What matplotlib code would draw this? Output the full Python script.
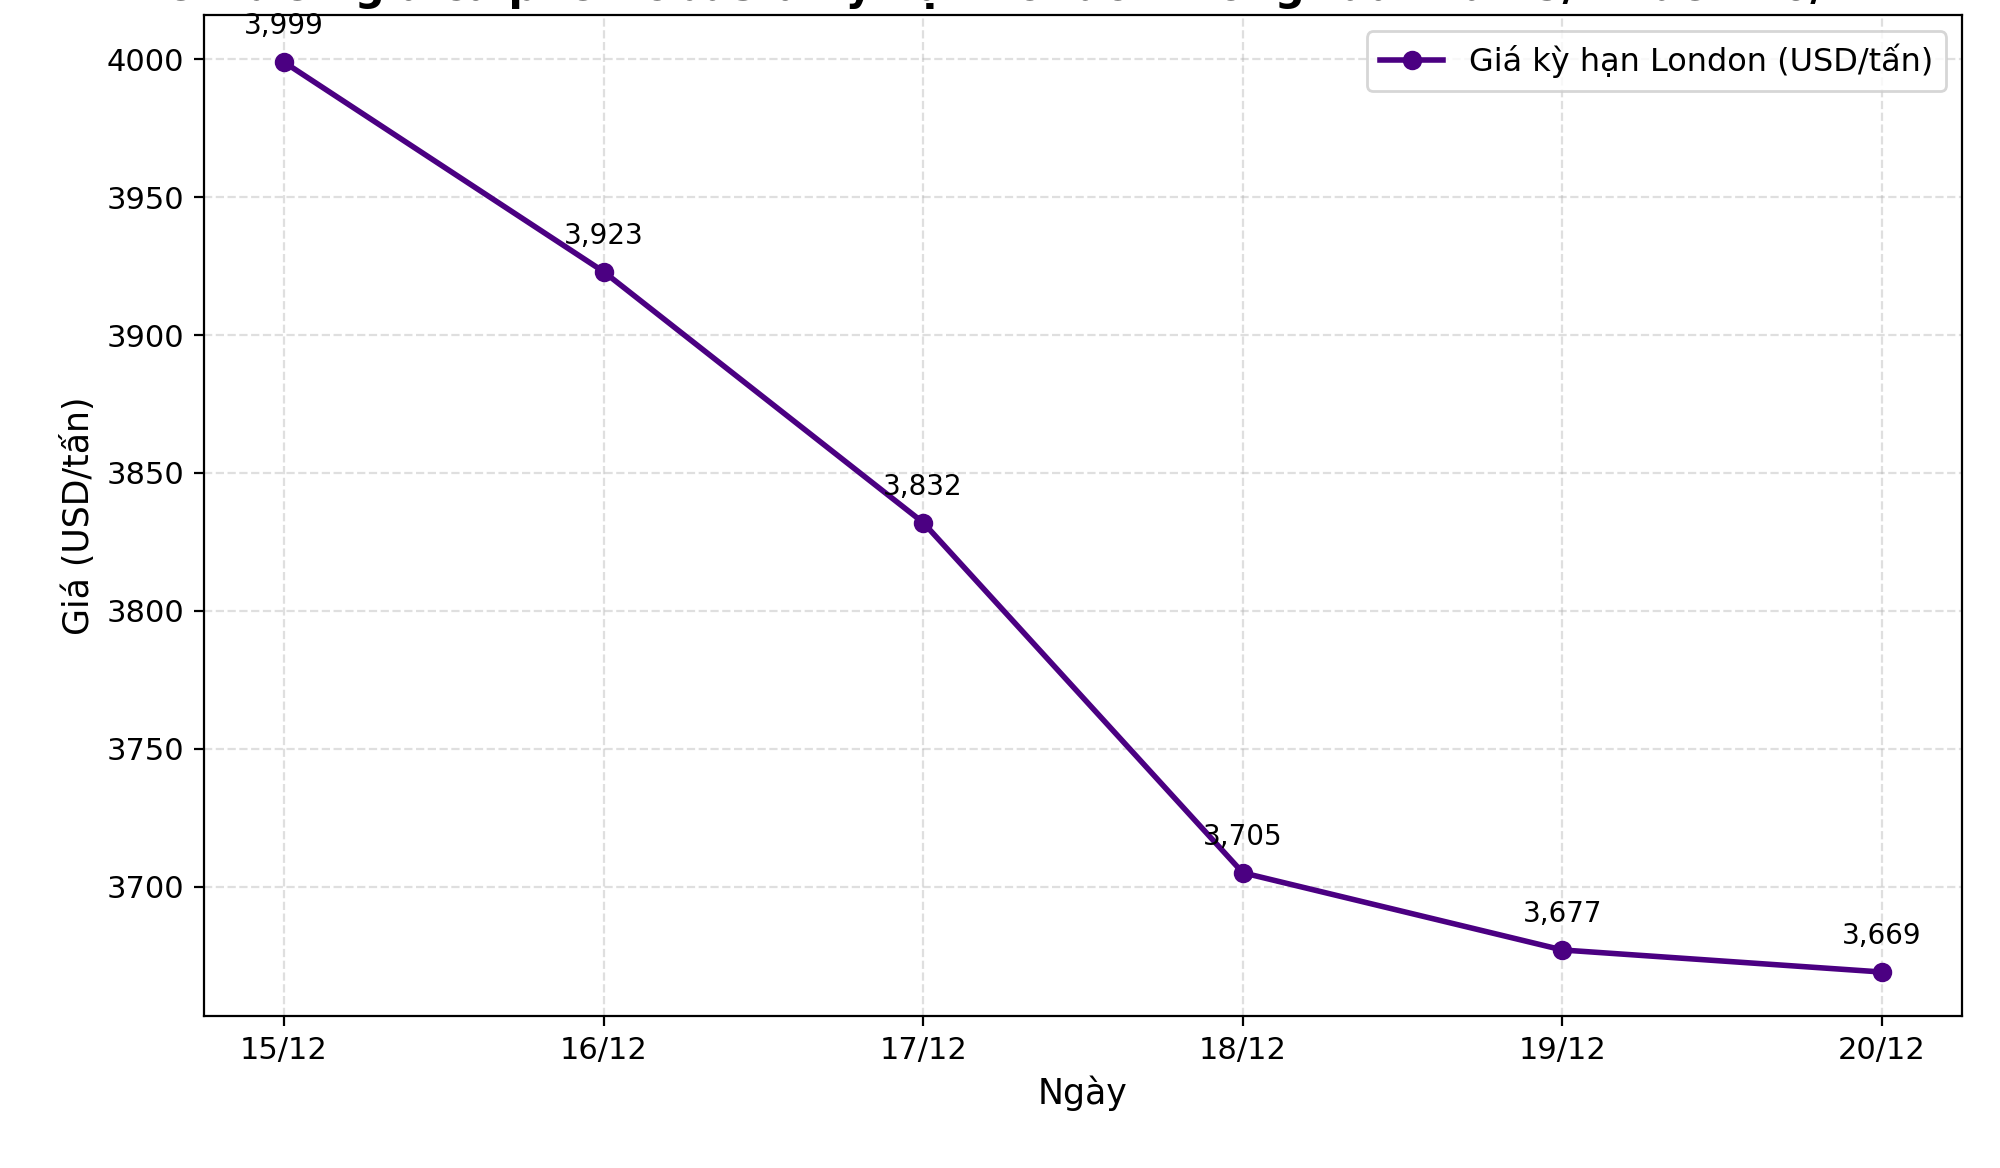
import matplotlib.pyplot as plt

dates = ["15/12", "16/12", "17/12", "18/12", "19/12", "20/12"]
prices = [3999, 3923, 3832, 3705, 3677, 3669]

fig, ax = plt.subplots(figsize=(10, 5.84), dpi=200)
fig.subplots_adjust(left=0.102, right=0.981, top=0.987, bottom=0.130)

x = range(len(dates))
ax.plot(x, prices, color="#4b0082", lw=2, marker="o", ms=6, label="Giá kỳ hạn London (USD/tấn)")
for xi, p in zip(x, prices):
    ax.annotate(f"{p:,}", (xi, p), textcoords="offset points", xytext=(0, 10), ha="center", fontsize=10)

ax.set_xticks(list(x))
ax.set_xticklabels(dates)
ax.tick_params(labelsize=11)
ax.set_ylim(3653, 4016)
ax.set_xlabel("Ngày", fontsize=12.5)
ax.set_ylabel("Giá (USD/tấn)", fontsize=12.5)
ax.grid(True, linestyle="--", alpha=0.4)
ax.legend(loc="upper right", fontsize=11.5)
fig.text(0.5, 1.012, "Diễn biến giá cà phê Robusta kỳ hạn London trong tuần từ 15/12 đến 20/12",
         ha="center", va="center", fontsize=15, fontweight="bold")
fig.savefig("out.png")
